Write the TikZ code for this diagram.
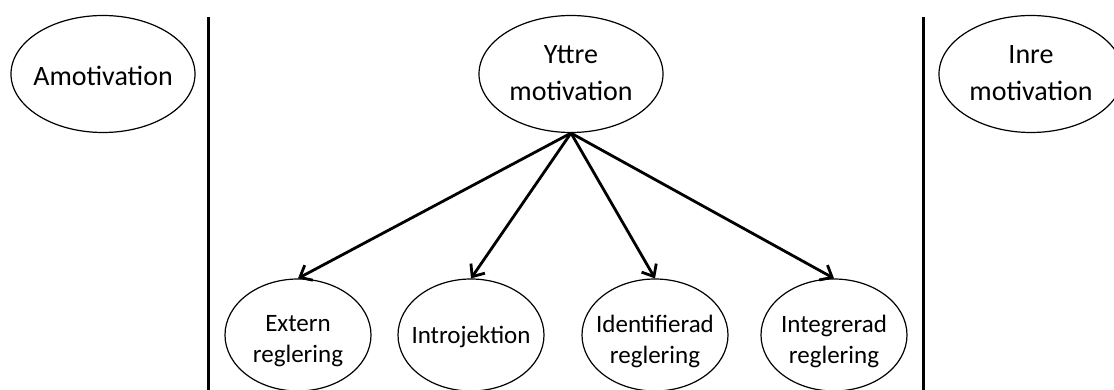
\documentclass[tikz,border=0pt]{standalone}
\usepackage{fontspec}
\setmainfont{Carlito}
\usetikzlibrary{shapes.geometric,arrows.meta}
\begin{document}
\begin{tikzpicture}[x=1pt,y=-1pt,
  toptxt/.style={align=center,inner sep=0pt,font=\fontsize{28}{36.5}\selectfont},
  bottxt/.style={align=center,inner sep=0pt,font=\fontsize{25}{31}\selectfont},
  oval/.style={ellipse,draw=black,line width=1.2pt,inner sep=0pt},
  bigoval/.style={oval,minimum width=184pt,minimum height=117pt},
  smalloval/.style={oval,minimum width=146pt,minimum height=112pt},
  divider/.style={line width=3pt},
  link/.style={line width=2.8pt,-{Straight Barb[length=10pt,width=17pt,line width=2.8pt]}}]
\clip (0,0) rectangle (1114,390);
\useasboundingbox (0,0) rectangle (1114,390);
\node[bigoval,label={[toptxt,yshift=-2pt]center:Amotivation}] (amot) at (103,74) {};
\node[bigoval,label={[toptxt,yshift=1pt]center:Yttre\\motivation}] (yttre) at (571,74) {};
\node[bigoval,label={[toptxt,yshift=1pt]center:Inre\\motivation}] (inre) at (1031,74) {};
\node[smalloval,label={[bottxt,yshift=-6pt]center:Extern\\reglering}] (extern) at (298,335) {};
\node[smalloval,label={[bottxt,yshift=-1.5pt]center:Introjektion}] (intro) at (471,335) {};
\node[smalloval,label={[bottxt,yshift=-6pt]center:Identifierad\\reglering}] (ident) at (655,335) {};
\node[smalloval,label={[bottxt,yshift=-6pt]center:Integrerad\\reglering}] (integ) at (834,335) {};
\coordinate (l1) at (208,17); \coordinate (l2) at (208,392);
\coordinate (r1) at (923,17); \coordinate (r2) at (923,392);
\draw[divider] (l1) -- (l2);
\draw[divider] (r1) -- (r2);
\draw[link] (yttre.south) -- (extern.north);
\draw[link] (yttre.south) -- (intro.north);
\draw[link] (yttre.south) -- (ident.north);
\draw[link] (yttre.south) -- (integ.north);
\end{tikzpicture}
\end{document}
